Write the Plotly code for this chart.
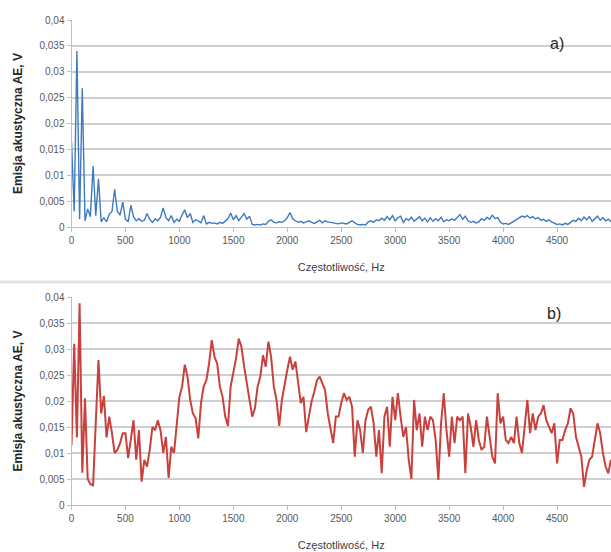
import plotly.graph_objects as go

STEP_HZ = 25
freq_hz = [i * STEP_HZ for i in range(201)]  # 0 ... 5000 Hz

# a) blue spectrum
ae_a = [
    0.0165, 0.0030, 0.0340, 0.0015, 0.0268, 0.0012, 0.0035, 0.0020, 0.0118, 0.0022,
    0.0093, 0.0010, 0.0018, 0.0010, 0.0025, 0.0030, 0.0073, 0.0030, 0.0023, 0.0048,
    0.0015, 0.0010, 0.0042, 0.0020, 0.0012, 0.0016, 0.0011, 0.0013, 0.0026, 0.0015,
    0.0009, 0.0016, 0.0012, 0.0019, 0.0037, 0.0018, 0.0012, 0.0022, 0.0009, 0.0015,
    0.0011, 0.0024, 0.0033, 0.0018, 0.0026, 0.0009, 0.0014, 0.0012, 0.0008, 0.0022,
    0.0006, 0.0009, 0.0007, 0.0008, 0.0006, 0.0009, 0.0007, 0.0011, 0.0016, 0.0027,
    0.0014, 0.0022, 0.0012, 0.0019, 0.0026, 0.0015, 0.0021, 0.0005, 0.0004, 0.0005,
    0.0004, 0.0006, 0.0005, 0.0011, 0.0014, 0.0009, 0.0008, 0.0010, 0.0009, 0.0012,
    0.0018, 0.0028, 0.0016, 0.0012, 0.0009, 0.0011, 0.0008, 0.0010, 0.0012, 0.0009,
    0.0007, 0.0010, 0.0013, 0.0008, 0.0012, 0.0010, 0.0009, 0.0007, 0.0007, 0.0006,
    0.0008, 0.0007, 0.0006, 0.0009, 0.0012, 0.0008, 0.0005, 0.0004, 0.0005, 0.0004,
    0.0010, 0.0012, 0.0009, 0.0014, 0.0012, 0.0017, 0.0013, 0.0020, 0.0014, 0.0022,
    0.0012, 0.0018, 0.0021, 0.0009, 0.0016, 0.0013, 0.0019, 0.0011, 0.0015, 0.0020,
    0.0012, 0.0017, 0.0010, 0.0018, 0.0011, 0.0016, 0.0012, 0.0019, 0.0010, 0.0014,
    0.0012, 0.0016, 0.0013, 0.0018, 0.0024, 0.0015, 0.0021, 0.0012, 0.0009, 0.0011,
    0.0008, 0.0010, 0.0016, 0.0013, 0.0019, 0.0015, 0.0023, 0.0016, 0.0018, 0.0009,
    0.0006, 0.0007, 0.0005, 0.0008, 0.0011, 0.0015, 0.0018, 0.0021, 0.0019, 0.0022,
    0.0017, 0.0020, 0.0016, 0.0018, 0.0013, 0.0015, 0.0011, 0.0014, 0.0010, 0.0008,
    0.0005, 0.0006, 0.0004, 0.0007, 0.0005, 0.0009, 0.0013, 0.0011, 0.0017, 0.0012,
    0.0019, 0.0014, 0.0020, 0.0011, 0.0016, 0.0021, 0.0013, 0.0018, 0.0012, 0.0015,
    0.0010,
]

# b) red spectrum
ae_b = [
    0.0115, 0.0310, 0.0130, 0.0388, 0.0062, 0.0205, 0.0050, 0.0040, 0.0038, 0.0165,
    0.0279, 0.0176, 0.0210, 0.0130, 0.0170, 0.0138, 0.0100, 0.0106, 0.0119, 0.0138,
    0.0138, 0.0090, 0.0131, 0.0163, 0.0087, 0.0144, 0.0045, 0.0087, 0.0074, 0.0106,
    0.0150, 0.0144, 0.0163, 0.0144, 0.0100, 0.0131, 0.0052, 0.0112, 0.0100, 0.0157,
    0.0208, 0.0228, 0.0270, 0.0247, 0.0202, 0.0176, 0.0167, 0.0128, 0.0196, 0.0228,
    0.0240, 0.0272, 0.0317, 0.0285, 0.0272, 0.0228, 0.0208, 0.0170, 0.0152, 0.0228,
    0.0253, 0.0282, 0.0320, 0.0304, 0.0266, 0.0234, 0.0208, 0.0170, 0.0186, 0.0228,
    0.0247, 0.0288, 0.0266, 0.0314, 0.0285, 0.0228, 0.0202, 0.0152, 0.0202, 0.0234,
    0.0260, 0.0285, 0.0260, 0.0276, 0.0240, 0.0196, 0.0208, 0.0140, 0.0170, 0.0199,
    0.0218, 0.0240, 0.0247, 0.0234, 0.0221, 0.0176, 0.0144, 0.0119, 0.0170, 0.0170,
    0.0196, 0.0215, 0.0202, 0.0208, 0.0189, 0.0093, 0.0163, 0.0144, 0.0100, 0.0163,
    0.0183, 0.0189, 0.0157, 0.0093, 0.0144, 0.0061, 0.0170, 0.0189, 0.0112, 0.0208,
    0.0163, 0.0215, 0.0170, 0.0131, 0.0150, 0.0087, 0.0050, 0.0202, 0.0144, 0.0176,
    0.0112, 0.0170, 0.0144, 0.0170, 0.0163, 0.0125, 0.0048, 0.0157, 0.0215, 0.0144,
    0.0093, 0.0170, 0.0119, 0.0170, 0.0163, 0.0170, 0.0061, 0.0176, 0.0150, 0.0112,
    0.0163, 0.0125, 0.0106, 0.0112, 0.0170, 0.0131, 0.0093, 0.0080, 0.0215, 0.0157,
    0.0170, 0.0125, 0.0119, 0.0131, 0.0119, 0.0170, 0.0119, 0.0100, 0.0157, 0.0202,
    0.0138, 0.0176, 0.0144, 0.0170, 0.0176, 0.0192, 0.0163, 0.0150, 0.0138, 0.0157,
    0.0080, 0.0125, 0.0125, 0.0144, 0.0157, 0.0186, 0.0176, 0.0131, 0.0112, 0.0093,
    0.0035, 0.0067, 0.0087, 0.0093, 0.0125, 0.0157, 0.0138, 0.0100, 0.0074, 0.0061,
    0.0087,
]

x_ticks = [0, 500, 1000, 1500, 2000, 2500, 3000, 3500, 4000, 4500]
y_ticks = [0, 0.005, 0.01, 0.015, 0.02, 0.025, 0.03, 0.035, 0.04]
x_title = "Częstotliwość, Hz"
y_title = "Emisja akustyczna AE, V"
panel_labels = ["a)", "b)"]

W, H = 611, 552
FONT = "Liberation Sans Narrow, Arial Narrow, Liberation Sans, sans-serif"
GRID = "#cfcfcf"
TICKC = "#595959"

fig = go.Figure()
fig.add_trace(go.Scatter(x=freq_hz, y=ae_a, mode="lines", xaxis="x", yaxis="y",
                         line=dict(color="#3f79bf", width=1.4), showlegend=False))
fig.add_trace(go.Scatter(x=freq_hz, y=ae_b, mode="lines", xaxis="x2", yaxis="y2",
                         line=dict(color="#c9403d", width=2), showlegend=False))

def xax(anchor):
    return dict(domain=[71.5 / W, 1.0], range=[0, 5000], anchor=anchor, automargin=False,
                tickvals=x_ticks, ticks="outside", ticklen=4, tickcolor="#bfbfbf",
                showgrid=False, zeroline=False, showline=True, linecolor="#bfbfbf",
                tickfont=dict(family=FONT, size=10, color=TICKC),
                title=dict(text=x_title, font=dict(family=FONT, size=11, color="#404040"),
                           standoff=18))

def yax(anchor, top_px, bot_px):
    return dict(domain=[1 - bot_px / H, 1 - top_px / H], range=[0, 0.04], anchor=anchor,
                automargin=False,
                tickvals=y_ticks, ticks="outside", ticklen=4, tickcolor="#bfbfbf",
                showgrid=True, gridcolor=GRID, gridwidth=1.6, zeroline=False,
                showline=True, linecolor="#bfbfbf",
                tickfont=dict(family=FONT, size=10, color=TICKC),
                title=dict(text=y_title,
                           font=dict(family=FONT, size=12, color="#262626", weight="bold"),
                           standoff=14))

fig.update_layout(
    width=W, height=H,
    margin=dict(l=0, r=0, t=0, b=0),
    paper_bgcolor="white", plot_bgcolor="white",
    separators=", ",
    xaxis=xax("y"), yaxis=yax("x", 20, 227),
    xaxis2=xax("y2"), yaxis2=yax("x2", 297, 505),
    shapes=[dict(type="line", xref="paper", yref="paper", x0=0, x1=1,
                 y0=1 - 282 / H, y1=1 - 282 / H, line=dict(color="#e3e3e3", width=3))],
    annotations=[
        dict(text=panel_labels[0], xref="paper", yref="paper", x=566 / W, y=1 - 33 / H,
             showarrow=False, font=dict(family=FONT, size=16, color="#262626")),
        dict(text=panel_labels[1], xref="paper", yref="paper", x=563 / W, y=1 - 313 / H,
             showarrow=False, font=dict(family=FONT, size=16, color="#262626")),
    ],
)

fig.write_html("out.html", config={"displayModeBar": False},
               post_script="document.body.style.margin='0';document.body.style.overflow='hidden';")
